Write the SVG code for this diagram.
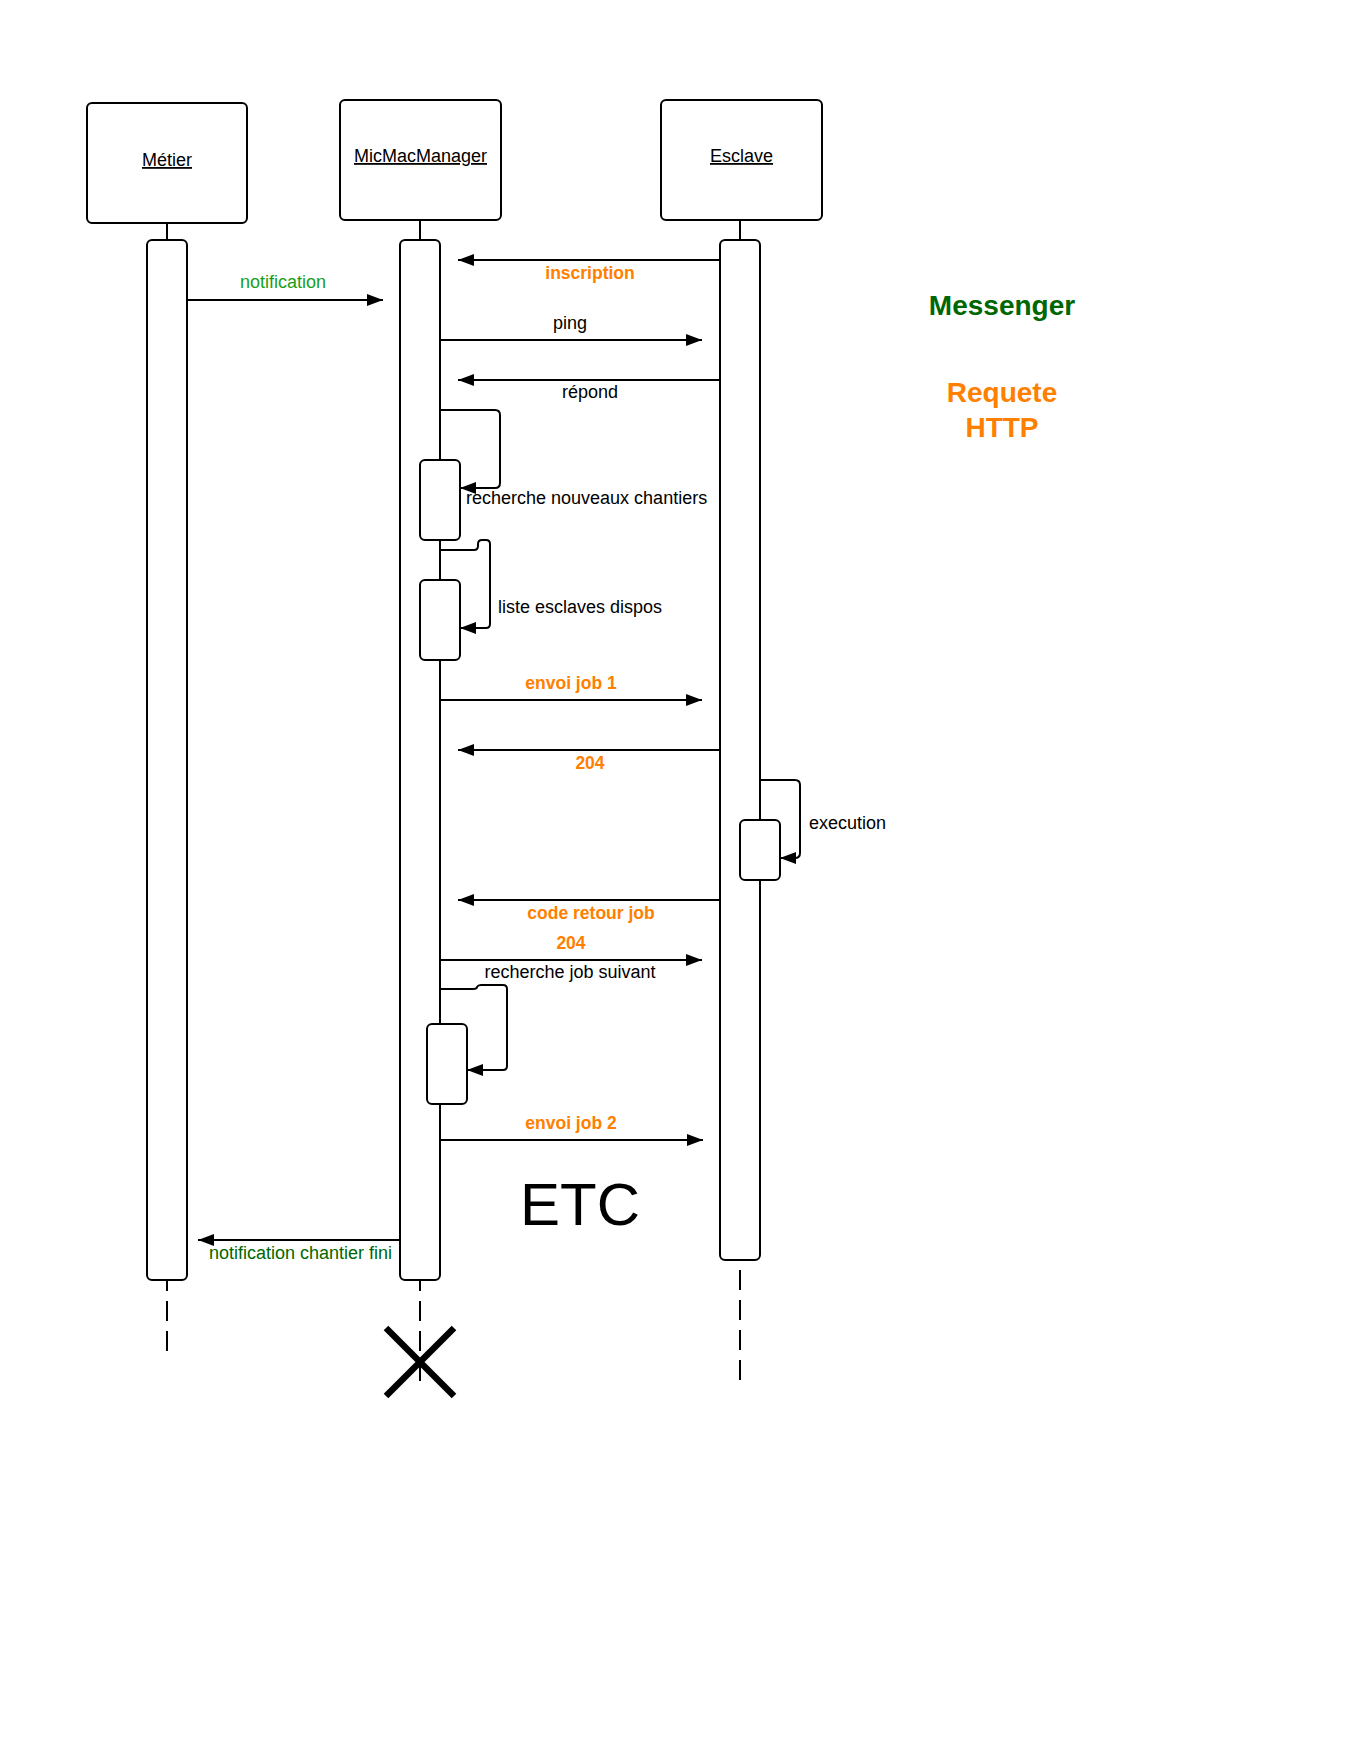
<svg xmlns="http://www.w3.org/2000/svg" width="1360" height="1760" viewBox="0 0 1360 1760">
<defs>
<marker id="arr" markerUnits="userSpaceOnUse" markerWidth="17" markerHeight="13" refX="16" refY="6" orient="auto">
<path d="M0,0 L16,6 L0,12 z" fill="#000"/>
</marker>
<style>
.box{fill:#fff;stroke:#000;stroke-width:2}
.ln{fill:none;stroke:#000;stroke-width:2}
.msg{fill:none;stroke:#000;stroke-width:2;marker-end:url(#arr)}
.dash{fill:none;stroke:#000;stroke-width:2;stroke-dasharray:20 10}
text{font-family:"Liberation Sans",Arial,sans-serif;font-size:18px;fill:#000}
.u{text-decoration:underline}
.or{fill:#ff8000;font-weight:bold;font-size:17.5px}
.gr{fill:#1a9e1a}
.dg{fill:#006600}
.mid{text-anchor:middle}
.big{font-size:28px;font-weight:bold}
</style>
</defs>
<rect width="1360" height="1760" fill="#fff"/>

<g id="metier">
<rect class="box" x="87" y="103" width="160" height="120" rx="5"/>
<text class="u mid" x="167" y="166">Métier</text>
<line class="ln" x1="167" y1="223" x2="167" y2="240"/>
<rect class="box" x="147" y="240" width="40" height="1040" rx="5"/>
<line class="dash" x1="167" y1="1281" x2="167" y2="1354" stroke-dashoffset="10"/>
</g>

<g id="micmacmanager">
<rect class="box" x="340" y="100" width="161" height="120" rx="5"/>
<text class="u mid" x="420.5" y="162">MicMacManager</text>
<line class="ln" x1="420" y1="220" x2="420" y2="240"/>
<rect class="box" x="400" y="240" width="40" height="1040" rx="5"/>
<line class="dash" x1="420" y1="1281" x2="420" y2="1381" stroke-dashoffset="10"/>
<path d="M386,1328 L454,1396 M454,1328 L386,1396" stroke="#000" stroke-width="6.5" fill="none"/>
</g>

<g id="esclave">
<rect class="box" x="661" y="100" width="161" height="120" rx="5"/>
<text class="u mid" x="741.5" y="162">Esclave</text>
<line class="ln" x1="740" y1="220" x2="740" y2="240"/>
<rect class="box" x="720" y="240" width="40" height="1020" rx="5"/>
<line class="dash" x1="740" y1="1270" x2="740" y2="1380"/>
</g>

<g id="activations">
<rect class="box" x="420" y="460" width="40" height="80" rx="5"/>
<rect class="box" x="420" y="580" width="40" height="80" rx="5"/>
<rect class="box" x="427" y="1024" width="40" height="80" rx="5"/>
<rect class="box" x="740" y="820" width="40" height="60" rx="5"/>
</g>

<g id="connectors">
<line class="msg" x1="187" y1="300" x2="383" y2="300"/>
<line class="msg" x1="720" y1="260" x2="458" y2="260"/>
<line class="msg" x1="440" y1="340" x2="702" y2="340"/>
<line class="msg" x1="720" y1="380" x2="458" y2="380"/>
<path class="msg" d="M440,410 H495 Q500,410 500,415 V483 Q500,488 495,488 H460"/>
<path class="msg" d="M440,550 H474 Q478,550 478,546 V544 Q478,540 482,540 H486 Q490,540 490,544 V624 Q490,628 486,628 H460"/>
<line class="msg" x1="440" y1="700" x2="702" y2="700"/>
<line class="msg" x1="720" y1="750" x2="458" y2="750"/>
<path class="msg" d="M760,780 H795 Q800,780 800,785 V853 Q800,858 795,858 H780"/>
<line class="msg" x1="720" y1="900" x2="458" y2="900"/>
<line class="msg" x1="440" y1="960" x2="702" y2="960"/>
<path class="msg" d="M440,989 H473 Q477,989 477,987 Q478,985 481,985 H503 Q507,985 507,989 V1066 Q507,1070 503,1070 H467"/>
<line class="msg" x1="440" y1="1140" x2="703" y2="1140"/>
<line class="msg" x1="400" y1="1240" x2="198" y2="1240"/>
</g>

<g id="labels">
<text class="gr mid" x="283" y="288">notification</text>
<text class="or mid" x="590" y="279">inscription</text>
<text class="mid" x="570" y="329">ping</text>
<text class="mid" x="590" y="398">répond</text>
<text x="466" y="504">recherche nouveaux chantiers</text>
<text x="498" y="613">liste esclaves dispos</text>
<text class="or mid" x="571" y="689">envoi job 1</text>
<text class="or mid" x="590" y="769">204</text>
<text x="809" y="829">execution</text>
<text class="or mid" x="591" y="919">code retour job</text>
<text class="or mid" x="571" y="949">204</text>
<text class="mid" x="570" y="978">recherche job suivant</text>
<text class="or mid" x="571" y="1129">envoi job 2</text>
<text class="mid" x="580" y="1225" style="font-size:60px">ETC</text>
<text class="dg" x="209" y="1259">notification chantier fini</text>
</g>

<g id="legend">
<text class="dg mid big" x="1002" y="315">Messenger</text>
<text class="mid big" x="1002" y="402" style="fill:#ff8000">Requete</text>
<text class="mid big" x="1002" y="437" style="fill:#ff8000">HTTP</text>
</g>
</svg>
